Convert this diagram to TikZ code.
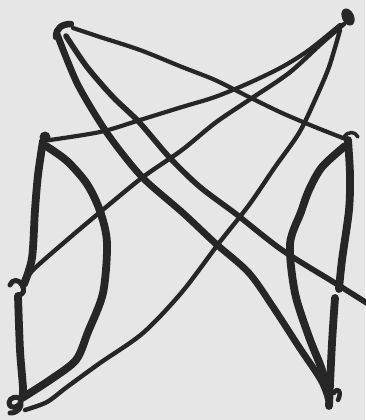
\documentclass[tikz,border=0pt]{standalone}
\usetikzlibrary{calc}
\definecolor{paper}{HTML}{E6E6E6}
\definecolor{pencil}{HTML}{262626}

\begin{document}
\begin{tikzpicture}[
    x=1pt, y=-1pt,
    ink/.style={draw=pencil, line width=4.4pt, line cap=round, line join=round},
    inkthick/.style={ink, line width=7.8pt},
    inkmid/.style={ink, line width=5.6pt},
    blob/.style={fill=pencil}
]
    \fill[paper] (0,0) rectangle (365,420);
    \useasboundingbox (0,0) rectangle (365,420);

    \coordinate (A) at (57,34);
    \coordinate (B) at (344,24);
    \coordinate (C) at (43,141);
    \coordinate (D) at (348,140);
    \coordinate (E) at (24,284);
    \coordinate (F) at (339,289);
    \coordinate (G) at (22,398);
    \coordinate (H) at (329,400);
    \coordinate (exit) at (370,305);

    % left side
    \draw[inkthick] plot[smooth] coordinates {(C) (38,175) (35,210) (32,258) (E)};
    \draw[inkthick] plot[smooth] coordinates {(18,296) (20,350) (23,388) (G)};
    \draw[inkthick] plot[smooth] coordinates {(46,146) (67,161) (87,184) (100,211) (107,243)
        (103,293) (88,332) (76,360) (50,380) (G)};

    % right side
    \draw[inkthick] plot[smooth] coordinates {(D) (350,175) (349,210) (342,260) (F)};
    \draw[inkthick] plot[smooth] coordinates {(335,298) (332,343) (329,406)};
    \draw[inkthick] plot[smooth] coordinates {(345,146) (322,167) (309,190) (301,212) (290,244)
        (295,293) (309,337) (322,370) (H)};

    % crossing strokes
    \draw[inkmid, line width=6.8pt] plot[smooth] coordinates {(A) (77,83) (103,127) (125,157) (146,181)
        (183,213) (215,243) (249,273) (275,310) (299,347) (321,380) (H)};
    \draw[inkmid] plot[smooth] coordinates {(66,36) (87,67) (113,97) (139,122) (170,158)
        (200,187) (236,214) (282,250) (335,283) (exit)};
    \draw[ink, line width=4.2pt] plot[smooth] coordinates {(73,28) (100,37) (140,50) (182,67)
        (215,80) (249,97) (282,113) (315,127) (D)};
    \draw[ink, line width=4.2pt] plot[smooth] coordinates {(C) (100,132) (140,120) (182,107)
        (215,97) (249,83) (282,67) (309,50) (340,25)};
    \draw[ink] plot[smooth] coordinates {(B) (322,43) (289,73) (249,100) (215,123) (182,150)
        (143,177) (105,208) (67,240) (33,270) (E)};
    \draw[ink] plot[smooth] coordinates {(340,30) (329,67) (315,100) (299,133) (275,167)
        (249,205) (219,243) (182,292) (143,333) (100,363) (67,387) (47,402) (25,410)};

    % pen marks at the corners
    \draw[inkthick, line width=6.5pt] (56,37) .. controls (56,28) and (62,24) .. (71,24);
    \fill[blob, rotate around={25:(348,17)}] (348,17) ellipse (6pt and 9pt);
    \fill[blob] (45,137) circle (5.5pt);
    \draw[ink, line width=3.5pt] (344,137) .. controls (348,131) and (355,131) .. (358,137);
    \draw[ink, line width=5pt] (10,285) .. controls (12,279) and (19,279) .. (22,285)
        .. controls (25,290) and (24,295) .. (18,295);
    \draw[ink, line width=5pt] (19,398) .. controls (11,395) and (7,402) .. (10,406)
        .. controls (14,409) and (20,406) .. (21,401)
        .. controls (22,408) and (18,413) .. (10,413);
    \draw[ink, line width=4.5pt] (334,393) .. controls (338,386) and (342,392) .. (338,400);
\end{tikzpicture}
\end{document}
